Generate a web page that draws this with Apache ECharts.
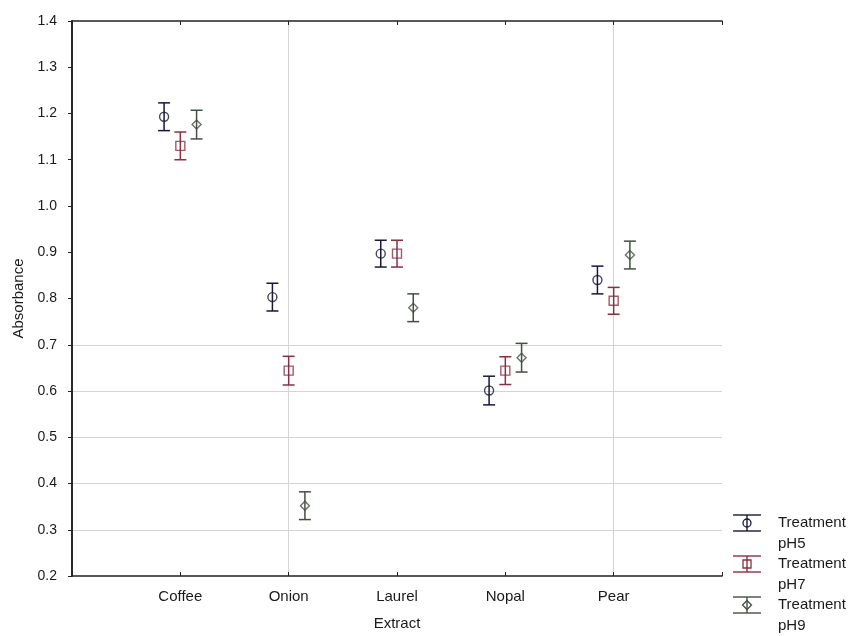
<!DOCTYPE html>
<html>
<head>
<meta charset="utf-8">
<script src="https://cdn.jsdelivr.net/npm/echarts@6/dist/echarts.min.js"></script>
<style>
  html, body { margin: 0; padding: 0; background: #fff; }
  #chart { width: 856px; height: 636px; }
</style>
</head>
<body>
<div id="chart"></div>
<script>
// Extracts on the x axis (placed at positions 1..5)
const categories = ['Coffee', 'Onion', 'Laurel', 'Nopal', 'Pear'];

// Mean absorbance per extract for each treatment
const meanPH5 = [1.193, 0.803, 0.897, 0.601, 0.840];
const meanPH7 = [1.130, 0.644, 0.897, 0.644, 0.795];
const meanPH9 = [1.176, 0.352, 0.780, 0.672, 0.894];

// Half-width of the error bars (absorbance units)
const errPH5 = [0.030, 0.030, 0.029, 0.031, 0.030];
const errPH7 = [0.030, 0.031, 0.029, 0.030, 0.029];
const errPH9 = [0.031, 0.030, 0.030, 0.031, 0.030];

const seriesNames = ['Treatment pH5', 'Treatment pH7', 'Treatment pH9'];
const yTicks = ['0.2','0.3','0.4','0.5','0.6','0.7','0.8','0.9','1.0','1.1','1.2','1.3','1.4'];

const FONT = '"Liberation Sans", Arial, sans-serif';
const TEXT = '#1a1a1a';
const colors = ['#18183a', '#8a2f42', '#434f42'];
const symbols = ['circle', 'rect', 'diamond'];
const symbolSizes = [9, 9, 9];
const shift = [-0.15, 0, 0.15];

const groups = [
  { mean: meanPH5, err: errPH5 },
  { mean: meanPH7, err: errPH7 },
  { mean: meanPH9, err: errPH9 }
];

const series = [];
groups.forEach((g, k) => {
  const color = colors[k];
  // error bars: vertical stem with caps
  series.push({
    type: 'custom',
    name: seriesNames[k] + ' err',
    xAxisIndex: 0, yAxisIndex: 0,
    encode: { x: 0, y: [1, 2] },
    data: g.mean.map((m, i) => [i + 1 + shift[k], m - g.err[i], m + g.err[i]]),
    renderItem: function (params, api) {
      const x = api.value(0);
      const lo = api.coord([x, api.value(1)]);
      const hi = api.coord([x, api.value(2)]);
      const hw = 6;
      const style = { stroke: color, lineWidth: 1.5, fill: null };
      return {
        type: 'group',
        children: [
          { type: 'line', shape: { x1: lo[0], y1: lo[1], x2: hi[0], y2: hi[1] }, style: style },
          { type: 'line', shape: { x1: lo[0] - hw, y1: lo[1], x2: lo[0] + hw, y2: lo[1] }, style: style },
          { type: 'line', shape: { x1: hi[0] - hw, y1: hi[1], x2: hi[0] + hw, y2: hi[1] }, style: style }
        ]
      };
    },
    z: 2
  });
  // mean markers
  series.push({
    type: 'scatter',
    name: seriesNames[k],
    xAxisIndex: 0, yAxisIndex: 0,
    symbol: symbols[k],
    symbolSize: symbolSizes[k],
    data: g.mean.map((m, i) => [i + 1 + shift[k], m]),
    itemStyle: { color: 'rgba(255,255,255,0)', borderColor: color, borderWidth: 1.4 },
    emphasis: { disabled: true },
    z: 3
  });
});

// Legend: small error-bar glyph plus two-line label for each treatment
const legendGraphics = [];
const legendTop = 523, legendStep = 41, legendX = 747;
seriesNames.forEach((name, k) => {
  const cy = legendTop + k * legendStep;
  const c = colors[k];
  const st = { stroke: c, lineWidth: 1.4, fill: null };
  const kids = [
    { type: 'line', shape: { x1: legendX - 14, y1: cy - 8, x2: legendX + 14, y2: cy - 8 }, style: st },
    { type: 'line', shape: { x1: legendX - 14, y1: cy + 8, x2: legendX + 14, y2: cy + 8 }, style: st },
    { type: 'line', shape: { x1: legendX, y1: cy - 8, x2: legendX, y2: cy + 8 }, style: st }
  ];
  if (k === 0) kids.push({ type: 'circle', shape: { cx: legendX, cy: cy, r: 4 }, style: { stroke: c, lineWidth: 1.3, fill: 'rgba(255,255,255,0)' } });
  if (k === 1) kids.push({ type: 'rect', shape: { x: legendX - 4, y: cy - 4, width: 8, height: 8 }, style: { stroke: c, lineWidth: 1.3, fill: 'rgba(255,255,255,0)' } });
  if (k === 2) kids.push({ type: 'polygon', shape: { points: [[legendX, cy - 4.5], [legendX + 4.5, cy], [legendX, cy + 4.5], [legendX - 4.5, cy]] }, style: { stroke: c, lineWidth: 1.3, fill: 'rgba(255,255,255,0)' } });
  const parts = name.split(' ');
  kids.push({ type: 'text', x: 778, y: cy, style: { text: parts[0], font: '15px ' + FONT, fill: TEXT, textVerticalAlign: 'middle' } });
  kids.push({ type: 'text', x: 778, y: cy + 21, style: { text: parts[1], font: '15px ' + FONT, fill: TEXT, textVerticalAlign: 'middle' } });
  legendGraphics.push({ type: 'group', children: kids });
});

const frame = { show: true, lineStyle: { color: '#222', width: 1.6 } };
const hGrid = yTicks.map((t, i) => (i >= 1 && i <= 5) ? '#d4d4d4' : 'rgba(0,0,0,0)');
const vGrid = ['rgba(0,0,0,0)', 'rgba(0,0,0,0)', '#d4d4d4', 'rgba(0,0,0,0)', 'rgba(0,0,0,0)', '#d4d4d4', 'rgba(0,0,0,0)'];

const option = {
  backgroundColor: '#ffffff',
  animation: false,
  textStyle: { fontFamily: FONT },
  grid: { left: 72, right: 134, top: 21, bottom: 58 },
  xAxis: [
    {
      type: 'value', position: 'bottom', min: 0, max: 6, interval: 1,
      name: 'Extract', nameLocation: 'middle', nameGap: 40,
      nameTextStyle: { fontSize: 15, color: TEXT, fontFamily: FONT },
      axisLine: frame,
      axisTick: { show: true, inside: true, length: 4, lineStyle: { color: '#222' } },
      axisLabel: {
        fontSize: 15, color: TEXT, margin: 13, fontFamily: FONT,
        formatter: v => categories[v - 1] || ''
      },
      splitLine: { show: true, lineStyle: { color: vGrid, width: 1 } }
    },
    {
      type: 'value', position: 'top', min: 0, max: 6, interval: 1,
      axisLine: frame,
      axisTick: { show: true, inside: true, length: 4, lineStyle: { color: '#222' } },
      axisLabel: { show: false },
      splitLine: { show: false }
    }
  ],
  yAxis: [
    {
      type: 'value', position: 'left', min: 0.2, max: 1.4, interval: 0.1,
      name: 'Absorbance', nameLocation: 'middle', nameGap: 45, nameRotate: 90,
      nameTextStyle: { fontSize: 15, color: TEXT, fontFamily: FONT },
      axisLine: frame,
      axisTick: { show: true, inside: false, length: 3, lineStyle: { color: '#222' } },
      axisLabel: {
        fontSize: 14, color: TEXT, margin: 15, fontFamily: FONT,
        formatter: v => yTicks[Math.round((v - 0.2) * 10)] || ''
      },
      splitLine: { show: true, lineStyle: { color: hGrid, width: 1 } }
    },
    {
      type: 'value', position: 'right', min: 0.2, max: 1.4, interval: 0.1,
      axisLine: frame,
      axisTick: { show: true, inside: true, length: 4, lineStyle: { color: '#222' } },
      axisLabel: { show: false },
      splitLine: { show: false }
    }
  ],
  series: series,
  graphic: legendGraphics
};

const chart = echarts.init(document.getElementById('chart'), null, { renderer: 'canvas' });
chart.setOption(option);
</script>
</body>
</html>
